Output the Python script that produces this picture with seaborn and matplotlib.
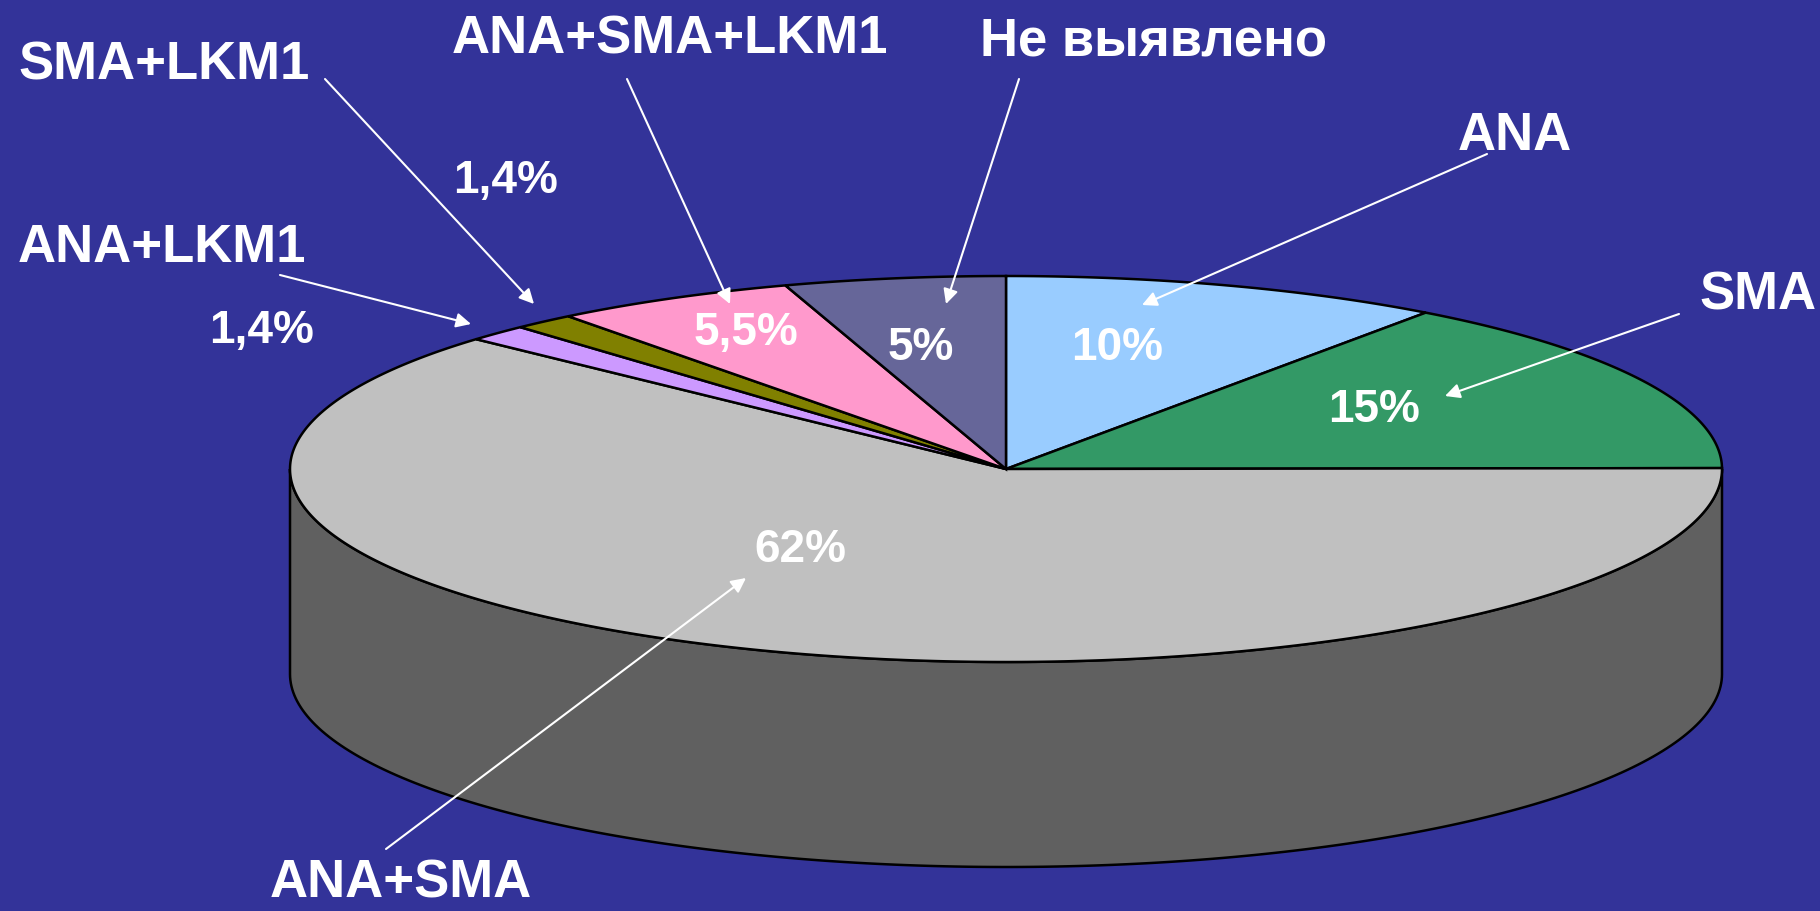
import matplotlib
matplotlib.use("Agg")
import matplotlib.pyplot as plt
import seaborn as sns
import numpy as np
from matplotlib.patches import Polygon

# --- data ---
categories = ["ANA", "SMA", "ANA+SMA", "ANA+LKM1", "SMA+LKM1", "ANA+SMA+LKM1", "Не выявлено"]
shares = [10, 15, 62, 1.4, 1.4, 5.5, 5]
pct_labels = ["10%", "15%", "62%", "1,4%", "1,4%", "5,5%", "5%"]
slice_colors = ["#99CCFF", "#339966", "#C0C0C0", "#CC99FF", "#808000", "#FF99CC", "#666699"]

# --- layout (pixel coords, y down) ---
cx, cy = 1006, 470
rx, ry = 716, 193
depth = 205
bg = "#333399"

cat_pos = {
    "ANA": (1458, 150),
    "SMA": (1699, 310),
    "ANA+SMA": (270, 898),
    "ANA+LKM1": (18, 262),
    "SMA+LKM1": (18, 80),
    "ANA+SMA+LKM1": (452, 54),
    "Не выявлено": (980, 55),
}
arrows = {
    "ANA": ((1487, 155), (1142, 306)),
    "SMA": ((1679, 315), (1445, 397)),
    "ANA+SMA": ((386, 850), (746, 579)),
    "ANA+LKM1": ((280, 276), (471, 325)),
    "SMA+LKM1": ((325, 80), (534, 305)),
    "ANA+SMA+LKM1": ((627, 80), (730, 305)),
    "Не выявлено": ((1019, 80), (946, 305)),
}
pct_pos = [(1071, 360), (1328, 422), (754, 562), (209, 343), (453, 193), (694, 345), (888, 360)]

sns.set_theme(style="white")
plt.rcParams['font.family'] = ['Liberation Sans', 'DejaVu Sans']

palette = sns.color_palette(slice_colors)

fig = plt.figure(figsize=(18.2, 9.12), dpi=100, facecolor=bg)
ax = fig.add_axes([0, 0, 1, 1])
ax.set_facecolor(bg)
ax.set_xlim(0, 1820)
ax.set_ylim(912, 0)
ax.axis("off")

def ell(t, dy=0):
    return cx + rx * np.cos(t), cy - ry * np.sin(t) + dy

total = sum(shares)
angles = [np.pi / 2]
for s in shares:
    angles.append(angles[-1] - s / total * 2 * np.pi)

# side of the cylinder (front half only: angles where sin < 0)
for i, col in enumerate(palette):
    a0, a1 = angles[i + 1], angles[i]  # a0 < a1
    for k in range(-1, 1):
        lo = max(a0, -np.pi + 2 * np.pi * k)
        hi = min(a1, 0 + 2 * np.pi * k)
        if hi <= lo:
            continue
        t = np.linspace(lo, hi, 200)
        xt, yt = ell(t)
        xb, yb = ell(t[::-1], depth)
        pts = np.column_stack([np.r_[xt, xb], np.r_[yt, yb]])
        dark = tuple(c * 0.5 for c in col)
        ax.add_patch(Polygon(pts, closed=True, facecolor=dark, edgecolor="black", lw=1.8, zorder=1))

# top wedges
for i, col in enumerate(palette):
    t = np.linspace(angles[i], angles[i + 1], 300)
    xt, yt = ell(t)
    pts = np.column_stack([np.r_[cx, xt], np.r_[cy, yt]])
    ax.add_patch(Polygon(pts, closed=True, facecolor=col, edgecolor="black", lw=1.8, zorder=2))

# percentage labels
for lab, (x, y) in zip(pct_labels, pct_pos):
    ax.text(x, y, lab, color="white", fontsize=33, fontweight="bold", ha="left", va="baseline", zorder=4)

# category labels and arrows
for name in categories:
    x, y = cat_pos[name]
    ax.text(x, y, name, color="white", fontsize=38, fontweight="bold", ha="left", va="baseline", zorder=4)
    start, end = arrows[name]
    ax.annotate("", xy=end, xytext=start,
                arrowprops=dict(arrowstyle="-|>", color="white", lw=1.5, mutation_scale=22,
                                shrinkA=0, shrinkB=0), zorder=5)

fig.savefig("out.png", dpi=100, facecolor=bg)
